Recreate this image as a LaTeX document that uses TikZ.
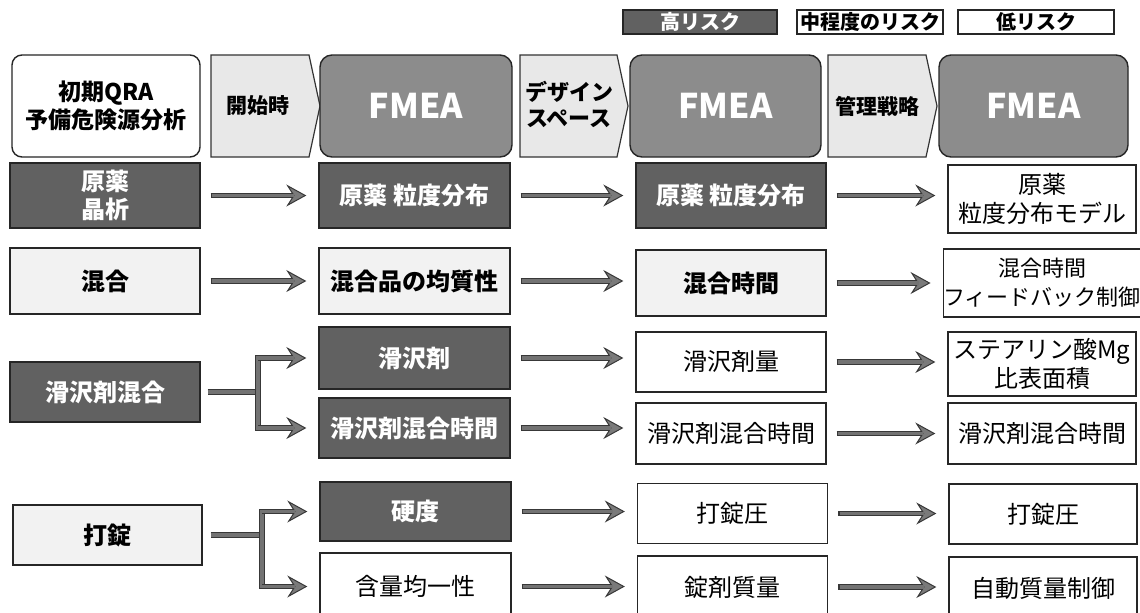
\documentclass[tikz,border=0pt]{standalone}
\usepackage{fontspec}
\setmainfont{Noto Sans CJK JP}
\usetikzlibrary{arrows.meta}
\begin{document}
\begin{tikzpicture}[x=0.5pt,y=-0.5pt,
  box/.style={draw=black!85, line width=0.7pt, inner sep=0pt, align=center,
    font=\fontsize{12}{14}\selectfont\bfseries},
  high/.style={box, fill=black!62, text=white},
  mid/.style={box, fill=black!5},
  low/.style={box, fill=white},
  lowr/.style={box, fill=white, font=\fontsize{12}{14.5}\selectfont},
  c1w/.style={minimum width=95pt},
  c2w/.style={minimum width=95.5pt},
  c3w/.style={minimum width=95pt},
  c4w/.style={minimum width=94pt},
  fmea/.style={draw=black!85, line width=0.7pt, fill=black!45, rounded corners=6pt,
    minimum height=51pt, inner sep=0pt, text=white,
    font=\fontsize{17}{20}\selectfont\bfseries},
  pentfill/.style={draw=black!80, line width=0.6pt, fill=black!9},
  pentlabel/.style={inner sep=0pt, align=center, font=\fontsize{10.5}{13}\selectfont\bfseries},
  legend/.style={minimum height=12pt, font=\fontsize{10}{12}\selectfont\bfseries},
  conn/.style={line width=2.8pt, draw=black!78, shorten <=5pt, shorten >=6pt,
    -{Stealth[length=10pt,width=11pt,inset=3.5pt,fill=black!52,line width=0.5pt]},
    postaction={draw=black!55, line width=1.6pt, -, shorten <=5.7pt, shorten >=12pt}},
  bconn/.style={conn, shorten <=0pt, postaction={draw=black!55, line width=1.6pt, -, shorten <=-0.7pt, shorten >=12pt}},
  connline/.style={line width=2.8pt, draw=black!78,
    postaction={draw=black!55, line width=1.6pt}},
]
\useasboundingbox (0,0) rectangle (1140,612);
\fill[white] (0,0) rectangle (1140,612);

% legend
\node[high, legend, minimum width=77pt] (lh) at (700,22) {高リスク};
\node[low, legend, minimum width=73pt] (lm) at (870,22) {中程度のリスク};
\node[low, legend, minimum width=78pt] (ll) at (1036,22) {低リスク};

% header
\node[draw=black!85, line width=0.7pt, fill=white, rounded corners=5pt,
  minimum width=94pt, minimum height=51pt, inner sep=0pt, align=center,
  font=\fontsize{11.5}{14}\selectfont\bfseries] (qra) at (106,106) {初期QRA\\予備危険源分析};
\draw[pentfill] (211,55) -- (309,55) -- (320,106) -- (309,157) -- (211,157) -- cycle;
\node[pentlabel] (p1) at (258,106) {開始時};
\node[fmea, minimum width=96pt] (f1) at (416,106) {FMEA};
\draw[pentfill] (520,55) -- (617,55) -- (628,106) -- (617,157) -- (520,157) -- cycle;
\node[pentlabel, font=\fontsize{11}{13}\selectfont\bfseries] (p2) at (569,104) {デザイン\\スペース};
\node[fmea, minimum width=95.5pt] (f2) at (725.5,106) {FMEA};
\draw[pentfill] (828,55) -- (926,55) -- (937,106) -- (926,157) -- (828,157) -- cycle;
\node[pentlabel] (p3) at (877,106) {管理戦略};
\node[fmea, minimum width=94.5pt] (f3) at (1033.5,106) {FMEA};

% row 1
\node[high, c1w, minimum height=32.5pt] (a1) at (105,195.5) {原薬\\晶析};
\node[high, c2w, minimum height=32.5pt] (a2) at (414.5,195.5) {原薬 粒度分布};
\node[high, c3w, minimum height=32.5pt] (a3) at (731,195.5) {原薬 粒度分布};
\node[lowr, c4w, minimum height=34pt] (a4) at (1042,199) {原薬\\粒度分布モデル};
\draw[conn] (a1.east) -- (a1.east -| a2.west);
\draw[conn] (a2.east) -- (a2.east -| a3.west);
\draw[conn] (a3.east) -- (a3.east -| a4.west);

% row 2
\node[mid, c1w, minimum height=33pt] (b1) at (105,281) {混合};
\node[mid, c2w, minimum height=33pt] (b2) at (414.5,281) {混合品の均質性};
\node[mid, c3w, minimum height=33pt] (b3) at (731,283) {混合時間};
\node[lowr, c4w, minimum height=34pt, font=\fontsize{11}{14.5}\selectfont] (b4) at (1042,283) {混合時間\\フィードバック制御};
\draw[conn] (b1.east) -- (b1.east -| b2.west);
\draw[conn] (b2.east) -- (b2.east -| b3.west);
\draw[conn] (b3.east) -- (b3.east -| b4.west);

% row 3
\node[high, c1w, minimum height=30pt] (c1) at (105,392) {滑沢剤混合};
\node[high, c2w, minimum height=31pt] (c2) at (414.5,358) {滑沢剤};
\node[high, c2w, minimum height=30pt] (c2b) at (414.5,428) {滑沢剤混合時間};
\node[lowr, c3w, minimum height=30pt] (c3) at (731,362) {滑沢剤量};
\node[lowr, c3w, minimum height=30.5pt] (c3b) at (731,433.5) {滑沢剤混合時間};
\node[lowr, c4w, minimum height=32pt] (c4) at (1042,364) {ステアリン酸Mg\\比表面積};
\node[lowr, c4w, minimum height=30.5pt] (c4b) at (1042,433.5) {滑沢剤混合時間};
\coordinate (j1) at (258,392);
\coordinate (j1t) at (258,358);
\coordinate (j1b) at (258,428);
\draw[connline, shorten <=3.5pt] (c1.east) -- (j1);
\draw[connline, line cap=rect] (j1t) -- (j1b);
\draw[bconn] (j1t) -- (j1t -| c2.west);
\draw[bconn] (j1b) -- (j1b -| c2b.west);
\draw[conn] (c2.east) -- (c2.east -| c3.west);
\draw[conn] (c2b.east) -- (c2b.east -| c3b.west);
\draw[conn] (c3.east) -- (c3.east -| c4.west);
\draw[conn] (c3b.east) -- (c3b.east -| c4b.west);

% row 4
\node[mid, minimum width=94.5pt, minimum height=30pt] (d1) at (107.5,535) {打錠};
\node[high, c2w, minimum height=29.5pt] (d2) at (415.5,511.5) {硬度};
\node[lowr, c2w, minimum height=33.5pt] (d2b) at (415.5,586.5) {含量均一性};
\node[lowr, c3w, minimum height=30pt] (d3) at (732.5,513.5) {打錠圧};
\node[lowr, c3w, minimum height=31pt] (d3b) at (732.5,587) {錠剤質量};
\node[lowr, c4w, minimum height=30pt] (d4) at (1043,514) {打錠圧};
\node[lowr, c4w, minimum height=31pt] (d4b) at (1043,588) {自動質量制御};
\coordinate (j2) at (262,535);
\coordinate (j2t) at (262,511.5);
\coordinate (j2b) at (262,586.5);
\draw[connline, shorten <=4pt] (d1.east) -- (j2);
\draw[connline, line cap=rect] (j2t) -- (j2b);
\draw[bconn] (j2t) -- (j2t -| d2.west);
\draw[bconn] (j2b) -- (j2b -| d2b.west);
\draw[conn] (d2.east) -- (d2.east -| d3.west);
\draw[conn] (d2b.east) -- (d2b.east -| d3b.west);
\draw[conn] (d3.east) -- (d3.east -| d4.west);
\draw[conn] (d3b.east) -- (d3b.east -| d4b.west);
\end{tikzpicture}
\end{document}
